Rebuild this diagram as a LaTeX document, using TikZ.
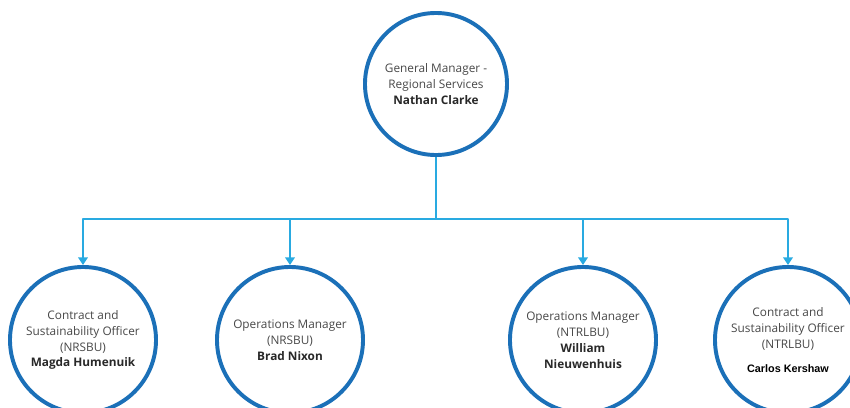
\documentclass[tikz,border=0pt]{standalone}
\usepackage{fontspec}
\setmainfont{Open Sans}
\newfontfamily\arialfont{Liberation Sans}
\usetikzlibrary{arrows.meta}
\definecolor{ringblue}{RGB}{27,112,184}
\definecolor{linkblue}{RGB}{41,170,225}
\definecolor{textgray}{RGB}{72,72,72}
\definecolor{namegray}{RGB}{40,40,40}
\tikzset{
	person/.style={circle,draw=ringblue,line width=2.8pt,fill=white,align=center,inner sep=0pt,
		text=textgray,font=\fontsize{8.4}{11.3}\selectfont,minimum size=3.65cm},
	link/.style={draw=linkblue,line width=1.1pt},
	tip/.style={-{Triangle[width=7pt,length=5.5pt]}},
}
\newcommand{\who}[1]{\textbf{\color{namegray}#1}}
\begin{document}
\begin{tikzpicture}[x=0.025cm,y=-0.025cm,line join=round]
	\useasboundingbox (0,0) rectangle (850,408);
	\clip (0,0) rectangle (850,408);
	\path
	(436,84) coordinate (G)
	(83,340) coordinate (A)
	(290,340) coordinate (B)
	(583,340) coordinate (C)
	(788,340) coordinate (D)
	(436,219) coordinate (bus)
	;
	\node[person,minimum size=3.55cm] (gm) at (G) {General Manager -\\Regional Services\\\who{Nathan Clarke}};
	\node[person] (csnr) at (A) {Contract and\\Sustainability Officer\\(NRSBU)\\\who{Magda Humenuik}};
	\node[person] (omnr) at (B) {Operations Manager\\(NRSBU)\\\who{Brad Nixon}};
	\node[person] (omnt) at (C) {Operations Manager\\(NTRLBU)\\\who{William}\\\who{Nieuwenhuis}};
	\node[person] (csnt) at (D) {Contract and\\Sustainability Officer\\(NTRLBU)\\[6pt]{\arialfont\bfseries\color{black}\fontsize{7.7}{9}\selectfont Carlos Kershaw}};
	\draw[link] (gm.south) -- (bus);
	\foreach \x in {csnr,omnr,omnt,csnt}
	\draw[link,tip] (bus) -| (\x.north);
\end{tikzpicture}
\end{document}
